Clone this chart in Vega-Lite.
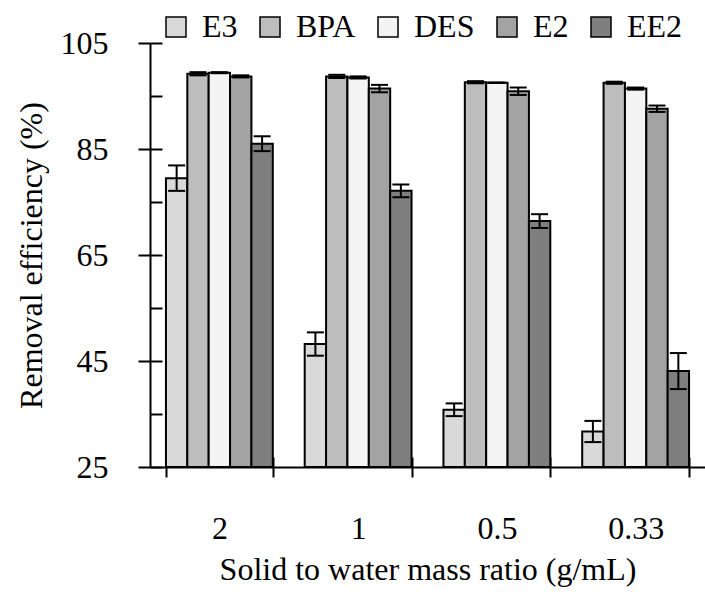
{
  "$schema": "https://vega.github.io/schema/vega-lite/v6.json",
  "width": 555,
  "height": 424,
  "autosize": {"type": "none"},
  "padding": {"left": 150, "top": 43, "right": 0, "bottom": 125},
  "background": "white",
  "config": {
    "font": "Times New Roman, Liberation Serif, serif",
    "view": {"stroke": null},
    "axis": {
      "labelFont": "Times New Roman, Liberation Serif, serif",
      "titleFont": "Times New Roman, Liberation Serif, serif",
      "labelFontSize": 32,
      "titleFontSize": 32,
      "titleFontWeight": "normal",
      "labelColor": "black",
      "titleColor": "black",
      "domainColor": "black",
      "tickColor": "black",
      "domainWidth": 2,
      "tickWidth": 2,
      "grid": false
    },
    "legend": {
      "labelFont": "Times New Roman, Liberation Serif, serif",
      "padding": 0
    }
  },
  "data": {
    "values": [
      {"ratio": "2", "series": "E3", "value": 79.5, "lo": 77.1, "hi": 81.9},
      {"ratio": "2", "series": "BPA", "value": 99.2, "lo": 98.9, "hi": 99.5},
      {"ratio": "2", "series": "DES", "value": 99.4, "lo": 99.3, "hi": 99.5},
      {"ratio": "2", "series": "E2", "value": 98.7, "lo": 98.5, "hi": 98.9},
      {"ratio": "2", "series": "EE2", "value": 86.0, "lo": 84.6, "hi": 87.4},
      {"ratio": "1", "series": "E3", "value": 48.2, "lo": 46.0, "hi": 50.4},
      {"ratio": "1", "series": "BPA", "value": 98.7, "lo": 98.4, "hi": 99.0},
      {"ratio": "1", "series": "DES", "value": 98.5, "lo": 98.3, "hi": 98.7},
      {"ratio": "1", "series": "E2", "value": 96.4, "lo": 95.7, "hi": 97.1},
      {"ratio": "1", "series": "EE2", "value": 77.1, "lo": 75.9, "hi": 78.3},
      {"ratio": "0.5", "series": "E3", "value": 35.8, "lo": 34.6, "hi": 37.0},
      {"ratio": "0.5", "series": "BPA", "value": 97.6, "lo": 97.4, "hi": 97.8},
      {"ratio": "0.5", "series": "DES", "value": 97.5, "lo": 97.45, "hi": 97.55},
      {"ratio": "0.5", "series": "E2", "value": 95.9, "lo": 95.2, "hi": 96.6},
      {"ratio": "0.5", "series": "EE2", "value": 71.4, "lo": 70.1, "hi": 72.7},
      {"ratio": "0.33", "series": "E3", "value": 31.7, "lo": 29.7, "hi": 33.7},
      {"ratio": "0.33", "series": "BPA", "value": 97.5, "lo": 97.3, "hi": 97.7},
      {"ratio": "0.33", "series": "DES", "value": 96.4, "lo": 96.2, "hi": 96.6},
      {"ratio": "0.33", "series": "E2", "value": 92.6, "lo": 92.0, "hi": 93.2},
      {"ratio": "0.33", "series": "EE2", "value": 43.1, "lo": 39.7, "hi": 46.5}
    ]
  },
  "layer": [
    {
      "mark": {"type": "bar", "stroke": "black", "strokeWidth": 2},
      "encoding": {
        "x": {
          "field": "ratio", "type": "nominal", "sort": ["2", "1", "0.5", "0.33"],
          "scale": {"paddingInner": 0.23, "paddingOuter": 0.115},
          "axis": {"title": "Solid to water mass ratio (g/mL)", "labelAngle": 0, "tickBand": "extent", "tickSize": 10, "labelPadding": 36, "titlePadding": 10, "orient": "bottom"}
        },
        "xOffset": {
          "field": "series", "type": "nominal", "sort": ["E3", "BPA", "DES", "E2", "EE2"],
          "scale": {"paddingInner": 0, "paddingOuter": 0}
        },
        "y": {
          "field": "value", "type": "quantitative",
          "scale": {"domain": [25, 105], "nice": false, "zero": false},
          "axis": {"title": "Removal efficiency (%)", "values": [25, 45, 65, 85, 105], "tickSize": 12, "labelPadding": 30, "titlePadding": 12, "orient": "left"}
        },
        "y2": {"datum": 25},
        "fill": {
          "field": "series", "type": "nominal",
          "scale": {"domain": ["E3", "BPA", "DES", "E2", "EE2"], "range": ["#d9d9d9", "#bdbdbd", "#f4f4f4", "#a3a3a3", "#7f7f7f"]},
          "legend": {
            "title": null, "orient": "none", "legendX": 10, "legendY": -32, "direction": "horizontal",
            "symbolType": "square", "symbolSize": 400, "symbolStrokeColor": "black", "symbolStrokeWidth": 1.5,
            "labelFontSize": 32, "labelFont": "Times New Roman, Liberation Serif, serif", "labelColor": "black", "labelOffset": 10, "columnPadding": 16
          }
        }
      }
    },
    {
      "mark": {"type": "rule", "stroke": "black", "strokeWidth": 2},
      "encoding": {
        "x": {"field": "ratio", "type": "nominal", "sort": ["2", "1", "0.5", "0.33"],
          "axis": {"orient": "bottom", "tickBand": "extent", "tickSize": -10, "labels": false, "domain": false, "title": null}},
        "xOffset": {"field": "series", "type": "nominal", "sort": ["E3", "BPA", "DES", "E2", "EE2"]},
        "y": {"field": "lo", "type": "quantitative",
          "axis": {"orient": "left", "values": [25, 35, 45, 55, 65, 75, 85, 95, 105], "tickSize": -12, "labels": false, "domain": false, "title": null}},
        "y2": {"field": "hi"}
      }
    },
    {
      "mark": {"type": "tick", "orient": "horizontal", "size": 17, "thickness": 2, "color": "black", "opacity": 1},
      "encoding": {
        "x": {"field": "ratio", "type": "nominal", "sort": ["2", "1", "0.5", "0.33"], "axis": null},
        "xOffset": {"field": "series", "type": "nominal", "sort": ["E3", "BPA", "DES", "E2", "EE2"]},
        "y": {"field": "lo", "type": "quantitative", "axis": null}
      }
    },
    {
      "mark": {"type": "tick", "orient": "horizontal", "size": 17, "thickness": 2, "color": "black", "opacity": 1},
      "encoding": {
        "x": {"field": "ratio", "type": "nominal", "sort": ["2", "1", "0.5", "0.33"], "axis": null},
        "xOffset": {"field": "series", "type": "nominal", "sort": ["E3", "BPA", "DES", "E2", "EE2"]},
        "y": {"field": "hi", "type": "quantitative", "axis": null}
      }
    }
  ],
  "resolve": {"axis": {"x": "independent", "y": "independent"}}
}
